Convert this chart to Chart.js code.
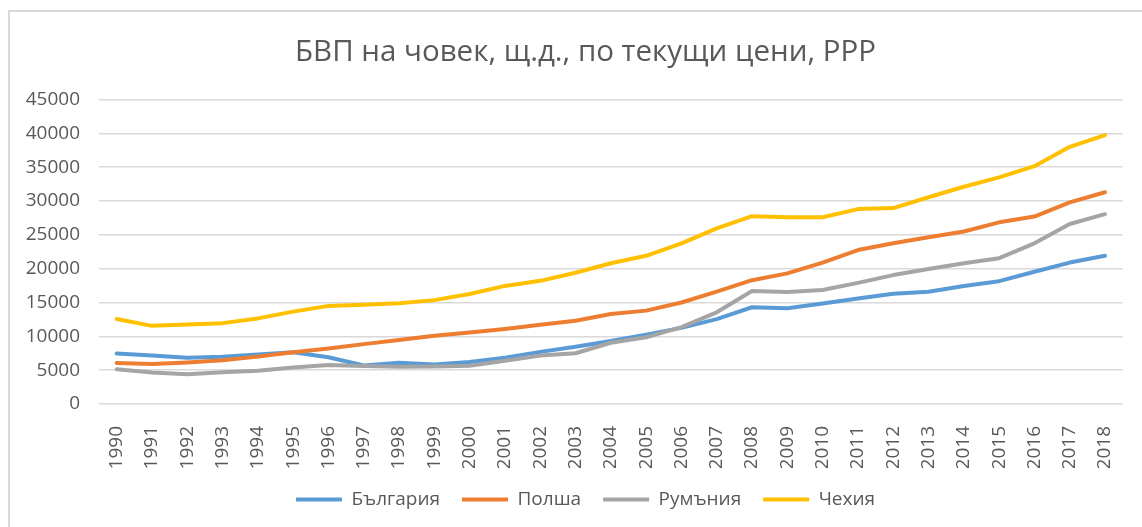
<!DOCTYPE html>
<html lang="bg">
<head>
<meta charset="utf-8">
<title>БВП на човек, щ.д., по текущи цени, PPP</title>
<script src="https://cdn.jsdelivr.net/npm/chart.js@4.4.1/dist/chart.umd.min.js"></script>
<style>
  html, body { margin: 0; padding: 0; background: #fff; }
  #wrap { position: relative; width: 1142px; height: 527px; overflow: hidden; }
  #frame {
    position: absolute; left: 8px; top: 10px; width: 1200px; height: 600px;
    border-left: 2px solid #d9d9d9; border-top: 2px solid #d9d9d9;
  }
  #gdp-chart { position: absolute; left: 0; top: 0; }
</style>
</head>
<body>
<div id="wrap">
  <div id="frame"></div>
  <canvas id="gdp-chart" width="1142" height="527"></canvas>
</div>
<script>
/* GDP per capita, current prices, PPP - line chart */

const YEARS = ['1990', '1991', '1992', '1993', '1994', '1995', '1996', '1997', '1998', '1999',
  '2000', '2001', '2002', '2003', '2004', '2005', '2006', '2007', '2008', '2009',
  '2010', '2011', '2012', '2013', '2014', '2015', '2016', '2017', '2018'];

const BULGARIA = [7450, 7150, 6850, 7000, 7300, 7650, 6900, 5700, 6100, 5850,
  6200, 6850, 7700, 8450, 9300, 10250, 11250, 12550, 14300, 14150,
  14850, 15600, 16300, 16600, 17450, 18150, 19550, 20900, 21900];

const POLAND = [6050, 5900, 6150, 6450, 7000, 7650, 8200, 8850, 9450, 10100,
  10550, 11100, 11700, 12300, 13300, 13800, 15000, 16600, 18300, 19300,
  20900, 22750, 23750, 24650, 25500, 26850, 27700, 29800, 31300];

const ROMANIA = [5150, 4650, 4400, 4700, 4900, 5400, 5750, 5600, 5500, 5550,
  5650, 6400, 7150, 7500, 9050, 9850, 11350, 13550, 16700, 16550,
  16850, 17900, 19050, 19950, 20800, 21550, 23750, 26600, 28050];

const CZECHIA = [12550, 11550, 11750, 11950, 12650, 13650, 14500, 14650, 14900, 15350,
  16250, 17450, 18200, 19400, 20800, 21900, 23750, 25950, 27750, 27600,
  27600, 28800, 28950, 30550, 32100, 33500, 35150, 38000, 39750];

const SERIES_NAMES = ['България', 'Полша', 'Румъния', 'Чехия'];
const SERIES_COLORS = ['#5b9bd5', '#ed7d31', '#a5a5a5', '#ffc000'];

const Y_MAX = 45000;
const Y_STEP = 5000;

const TEXT_COLOR = '#595959';
const GRID_COLOR = '#d9d9d9';
const FONT = 'Open Sans, sans-serif';

function buildDatasets() {
  const values = [BULGARIA, POLAND, ROMANIA, CZECHIA];
  return values.map((data, idx) => ({
    label: SERIES_NAMES[idx],
    data: data,
    borderColor: SERIES_COLORS[idx],
    backgroundColor: SERIES_COLORS[idx],
    borderWidth: 4,
    borderCapStyle: 'round',
    borderJoinStyle: 'round',
    pointRadius: 0,
    tension: 0,
    fill: false,
    // later series are painted on top, like the original
    order: values.length - idx,
  }));
}

// the y labels hang left of the (narrowed) axis box, so widen its clip area
const yLabelRoom = {
  id: 'yLabelRoom',
  afterLayout(chart) {
    chart.scales.y.left = 0;
  }
};

const ctx = document.getElementById('gdp-chart').getContext('2d');

new Chart(ctx, {
  type: 'line',
  data: { labels: YEARS, datasets: buildDatasets() },
  plugins: [yLabelRoom],
  options: {
    responsive: false,
    animation: false,
    layout: {
      padding: { left: 40, right: 11, top: 0, bottom: 8 }
    },
    plugins: {
      title: {
        display: true,
        text: 'БВП на човек, щ.д., по текущи цени, PPP',
        color: TEXT_COLOR,
        font: { family: FONT, size: 29.5, weight: 'normal', lineHeight: 1.2 },
        padding: { top: 34.8, bottom: 29.3 }
      },
      legend: {
        position: 'bottom',
        labels: {
          usePointStyle: true,
          pointStyle: 'line',
          pointStyleWidth: 46,
          padding: 22,
          color: TEXT_COLOR,
          font: { family: FONT, size: 19 },
          sort: (a, b) => a.datasetIndex - b.datasetIndex
        }
      },
      tooltip: { enabled: false }
    },
    scales: {
      x: {
        offset: true,
        grid: { display: false },
        border: { display: false },
        ticks: {
          color: TEXT_COLOR,
          font: { family: FONT, size: 19 },
          minRotation: 90,
          maxRotation: 90,
          padding: 14,
          autoSkip: false
        },
        afterFit: (scale) => { scale.height = 64; }
      },
      y: {
        min: 0,
        max: Y_MAX,
        grid: { color: GRID_COLOR, lineWidth: 1.5, drawTicks: false },
        border: { display: false },
        ticks: {
          stepSize: Y_STEP,
          color: TEXT_COLOR,
          font: { family: FONT, size: 19 },
          padding: 19,
          callback: (val) => String(val)
        },
        afterFit: (scale) => { scale.width = 59; }
      }
    }
  }
});
</script>
</body>
</html>
